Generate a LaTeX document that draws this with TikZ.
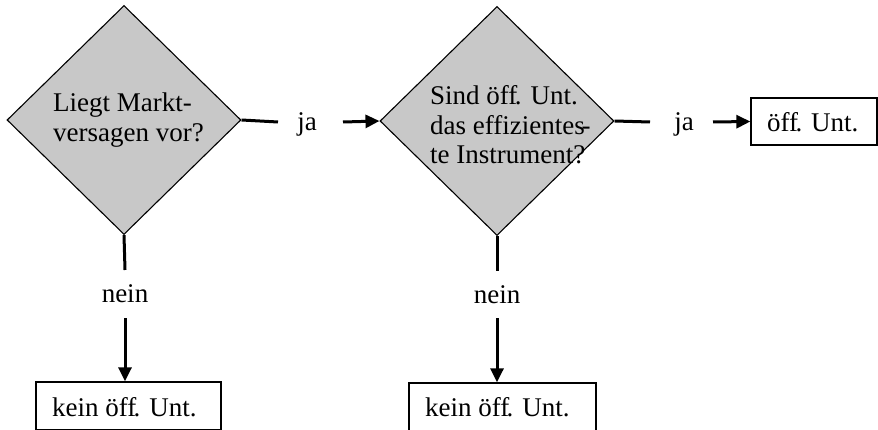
\documentclass[tikz,border=0pt]{standalone}
\usepackage{fontspec}
\setmainfont{Liberation Serif}
\usetikzlibrary{shapes.geometric,arrows.meta}
\definecolor{diafill}{RGB}{200,200,200}
\begin{document}
\begin{tikzpicture}[x=1pt,y=-1pt,
  dia/.style={diamond,draw=black,line width=1.1pt,fill=diafill,inner sep=0pt,minimum width=234pt,minimum height=229pt},
  txt/.style={font=\fontsize{27}{29.5}\selectfont,inner sep=0pt,align=left},
  resbox/.style={draw=black,line width=1.3pt,fill=white,inner sep=0pt},
  conn/.style={line width=3pt},
  arr/.style={line width=3pt,-{Triangle[length=14pt,width=13pt]}}]
\useasboundingbox (0,0) rectangle (878,430);
% diamonds
\node[dia] (d1) at (124,120) {};
\node[dia] (d2) at (497,121) {};
\node[txt,anchor=west] (t1) at (53,120) {Liegt Markt-\\versagen vor?};
\node[txt,anchor=west] (t2) at (430,125) {Sind öff\kern-0.1em. Unt.\\das effizientes\kern-0.12em-\\te Instrument?};
% boxes
\node[resbox,minimum width=126pt,minimum height=47pt] (b1) at (814,121.5) {};
\node[txt,anchor=base west] at (767,132) {öff\kern-0.1em. Unt.};
\node[resbox,minimum width=185pt,minimum height=48pt] (k1) at (128.5,406) {};
\node[txt,anchor=base west] at (52,416) {kein öff\kern-0.1em. Unt.};
\node[resbox,minimum width=187pt,minimum height=48pt] (k2) at (502.5,407) {};
\node[txt,anchor=base west] at (425,416) {kein öff\kern-0.1em. Unt.};
% labels
\node[txt] (ja1) at (307,124) {ja};
\node[txt] (ja2) at (684,124) {ja};
\node[txt] (n1) at (125,294) {nein};
\node[txt] (n2) at (497,295) {nein};
% connector coordinates
\coordinate (a1) at (278,122);
\coordinate (a2) at (343,122);
\coordinate (a3) at (650,122);
\coordinate (a4) at (713,122);
\coordinate (v1) at (125,270);
\coordinate (v2) at (125,318);
\coordinate (w1) at (497,271);
\coordinate (w2) at (497,318);
% connectors
\draw[conn] (d1.east) -- (a1);
\draw[arr] (a2) -- (d2.west);
\draw[conn] (d2.east) -- (a3);
\draw[arr] (a4) -- (b1.west);
\draw[conn] (d1.south) -- (v1);
\draw[arr] (v2) -- (k1.north -| v2);
\draw[conn] (d2.south) -- (w1);
\draw[arr] (w2) -- (k2.north -| w2);
\end{tikzpicture}
\end{document}
